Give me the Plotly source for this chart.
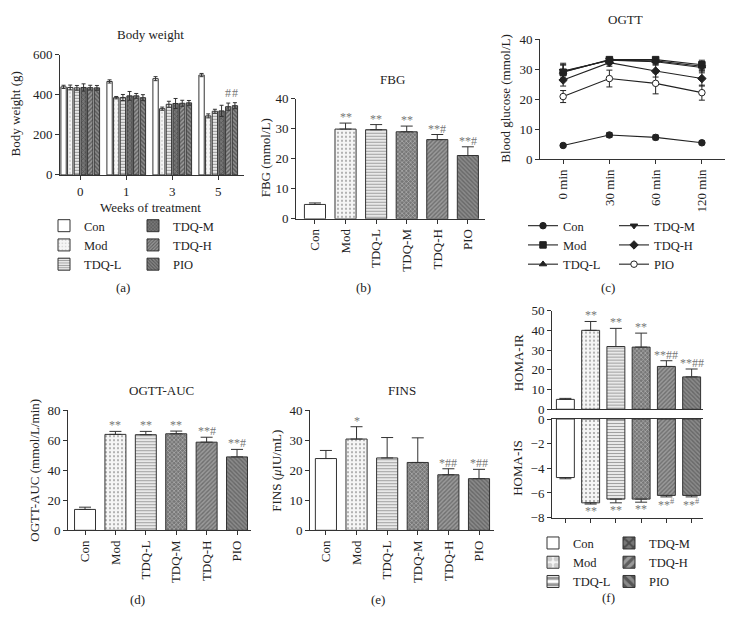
import plotly.graph_objects as go

# ---------------- data ----------------
groups = ["Con", "Mod", "TDQ-L", "TDQ-M", "TDQ-H", "PIO"]

weeks = ["0", "1", "3", "5"]
bw_mean = {
    "Con":   [440, 467, 481, 499],
    "Mod":   [437, 386, 331, 295],
    "TDQ-L": [435, 387, 353, 318],
    "TDQ-M": [437, 395, 357, 320],
    "TDQ-H": [436, 395, 358, 341],
    "PIO":   [435, 386, 360, 346],
}
bw_err = {
    "Con":   [8, 8, 10, 8],
    "Mod":   [12, 6, 8, 10],
    "TDQ-L": [12, 15, 15, 10],
    "TDQ-M": [18, 22, 25, 28],
    "TDQ-H": [12, 12, 15, 18],
    "PIO":   [12, 15, 12, 15],
}
bw_sig = {"TDQ-H": ["", "", "", "#"], "PIO": ["", "", "", "#"]}

times = ["0 min", "30 min", "60 min", "120 min"]
ogtt_mean = {
    "Con":   [4.6, 8.1, 7.3, 5.5],
    "Mod":   [29.0, 33.2, 33.2, 31.5],
    "TDQ-L": [29.2, 33.0, 32.8, 31.0],
    "TDQ-M": [29.4, 33.0, 32.5, 30.6],
    "TDQ-H": [26.4, 32.2, 29.4, 26.9],
    "PIO":   [20.9, 26.9, 25.3, 22.2],
}
ogtt_err = {
    "Con":   [0.4, 0.8, 0.8, 0.6],
    "Mod":   [2.5, 0.8, 0.8, 1.5],
    "TDQ-L": [2.8, 0.8, 0.9, 1.5],
    "TDQ-M": [2.0, 0.8, 1.0, 1.8],
    "TDQ-H": [2.0, 1.2, 2.0, 2.5],
    "PIO":   [2.0, 2.8, 3.5, 2.5],
}

fbg = [4.8, 29.9, 29.7, 29.0, 26.4, 21.1]
fbg_err = [0.5, 2.0, 1.7, 1.9, 1.7, 2.9]
fbg_sig = ["", "**", "**", "**", "**#", "**#"]

auc = [13.9, 63.9, 63.7, 64.3, 58.7, 48.9]
auc_err = [1.5, 2.0, 2.2, 1.8, 3.3, 5.0]
auc_sig = ["", "**", "**", "**", "**#", "**#"]

fins = [23.9, 30.4, 24.1, 22.6, 18.5, 17.2]
fins_err = [2.7, 4.1, 6.8, 8.2, 2.0, 3.1]
fins_sig = ["", "*", "", "", "*##", "*##"]

homa_ir = [5.0, 40.0, 31.8, 31.5, 21.7, 16.4]
homa_ir_err = [0.5, 4.5, 9.2, 7.1, 2.9, 4.0]
homa_ir_sig = ["", "**", "**", "**", "**##", "**##"]

homa_is = [-4.75, -6.8, -6.5, -6.5, -6.2, -6.2]
homa_is_err = [0.1, 0.1, 0.3, 0.25, 0.12, 0.12]
homa_is_sig = ["", "**", "**", "**", "**<sup>#</sup>", "**<sup>#</sup>"]

# ---------------- style ----------------
W, H = 733, 633
FONT = "Liberation Serif"
INK = "#222222"
AX = "#333333"
STAR = "#777777"
FS = 13
LFS = 12.5

style = {
    "Con":   dict(bg="#ffffff", shape="",   fg="#333333", size=4, sol=0.3),
    "Mod":   dict(bg="#f5f5f5", shape=".",  fg="#a8a8a8", size=4, sol=0.2),
    "TDQ-L": dict(bg="#ffffff", shape="-",  fg="#333333", size=3, sol=0.5),
    "TDQ-M": dict(bg="#777777", shape="x",  fg="#222222", size=3, sol=0.35),
    "TDQ-H": dict(bg="#9a9a9a", shape="/",  fg="#222222", size=3, sol=0.45),
    "PIO":   dict(bg="#8a8a8a", shape="\\", fg="#222222", size=3, sol=0.45),
}
symbols = {"Con": "circle", "Mod": "square", "TDQ-L": "triangle-up",
           "TDQ-M": "triangle-down", "TDQ-H": "diamond", "PIO": "circle"}


def px(x):
    return x / W


def py(y):
    return 1 - y / H


def marker_for(gs):
    return dict(
        color=[style[g]["bg"] for g in gs],
        line=dict(color=AX, width=1),
        pattern=dict(shape=[style[g]["shape"] for g in gs],
                     fgcolor=[style[g]["fg"] for g in gs],
                     size=[style[g]["size"] for g in gs],
                     solidity=[style[g]["sol"] for g in gs]),
    )


def err_up(arr, w=6):
    return dict(type="data", array=arr, arrayminus=[0] * len(arr), symmetric=False,
                color=AX, thickness=1, width=w)


def err_down(arr, w=6):
    return dict(type="data", array=[0] * len(arr), arrayminus=arr, symmetric=False,
                color=AX, thickness=1, width=w)


fig = go.Figure()

# (a) body weight, grouped bars
BARGAP = 0.13
for gi, g in enumerate(groups):
    s = style[g]
    fig.add_trace(go.Bar(
        x=weeks, y=bw_mean[g], name=g, xaxis="x", yaxis="y",
        marker=dict(color=s["bg"], line=dict(color=AX, width=1),
                    pattern=dict(shape=s["shape"], fgcolor=s["fg"], size=s["size"], solidity=s["sol"])),
        error_y=dict(type="data", array=bw_err[g], color=AX, thickness=1, width=2),
        legend="legend" if gi < 3 else "legend2",
    ))

# (b) FBG
fig.add_trace(go.Bar(x=groups, y=fbg, width=0.69, xaxis="x2", yaxis="y2",
                     marker=marker_for(groups), error_y=err_up(fbg_err), showlegend=False))

# (c) OGTT lines
for gi, g in enumerate(groups):
    fig.add_trace(go.Scatter(
        x=times, y=ogtt_mean[g], name=g, mode="lines+markers", xaxis="x3", yaxis="y3",
        line=dict(color=INK, width=1.1),
        marker=dict(symbol=symbols[g], size=6.5,
                    color="#ffffff" if g == "PIO" else INK, line=dict(color=INK, width=1)),
        error_y=dict(type="data", array=ogtt_err[g], color=INK, thickness=1, width=3),
        legend="legend3" if gi < 3 else "legend4",
    ))

# (d) OGTT-AUC
fig.add_trace(go.Bar(x=groups, y=auc, width=0.69, xaxis="x4", yaxis="y4",
                     marker=marker_for(groups), error_y=err_up(auc_err), showlegend=False))

# (e) FINS
fig.add_trace(go.Bar(x=groups, y=fins, width=0.69, xaxis="x5", yaxis="y5",
                     marker=marker_for(groups), error_y=err_up(fins_err), showlegend=False))

# (f) HOMA-IR / HOMA-IS
for gi, g in enumerate(groups):
    fig.add_trace(go.Bar(x=[g], y=[homa_ir[gi]], name=g, width=0.71, offsetgroup="ir",
                         xaxis="x6", yaxis="y6", marker=marker_for([g]),
                         error_y=err_up([homa_ir_err[gi]]),
                         legend="legend5" if gi < 3 else "legend6"))
    fig.add_trace(go.Bar(x=[g], y=[homa_is[gi]], name=g, width=0.71, offsetgroup="is",
                         xaxis="x7", yaxis="y7", marker=marker_for([g]),
                         error_y=err_down([homa_is_err[gi]]), showlegend=False))

# ---------------- axes ----------------
tickfont = dict(family=FONT, size=FS, color=INK)


def xax(d0, d1, anchor, rng, cats, **kw):
    a = dict(domain=[px(d0), px(d1)], anchor=anchor, type="category",
             categoryorder="array", categoryarray=cats, range=rng,
             showline=True, linecolor=AX, linewidth=1, ticks="outside", ticklen=4,
             tickcolor=AX, showgrid=False, zeroline=False, tickfont=tickfont)
    a.update(kw)
    return a


def yax(t, b, anchor, rng, dtick, **kw):
    a = dict(domain=[py(b), py(t)], anchor=anchor, range=rng, dtick=dtick,
             showline=True, linecolor=AX, linewidth=1, ticks="outside", ticklen=4,
             tickcolor=AX, showgrid=False, zeroline=False, tickfont=tickfont)
    a.update(kw)
    return a


fig.update_layout(
    xaxis=xax(60, 244, "y", [-0.44, 3.56], weeks),
    yaxis=yax(49, 172, "x", [0, 600], 200),
    xaxis2=xax(296, 485, "y2", [-0.62, 5.56], groups, tickangle=-90),
    yaxis2=yax(94, 217, "x2", [0, 40], 10),
    xaxis3=xax(540, 725, "y3", [-0.5, 3.5], times, tickangle=-90),
    yaxis3=yax(33, 156, "x3", [0, 40], 10),
    xaxis4=xax(68, 251, "y4", [-0.56, 5.46], groups, tickangle=-90),
    yaxis4=yax(413, 536, "x4", [0, 80], 20),
    xaxis5=xax(310, 494, "y5", [-0.52, 5.49], groups, tickangle=-90),
    yaxis5=yax(413, 536, "x5", [0, 40], 10),
    xaxis6=xax(552, 703, "y6", [-0.53, 5.45], groups, ticks="", showticklabels=False),
    yaxis6=yax(311, 412, "x6", [0, 50], 10),
    xaxis7=xax(552, 703, "y7", [-0.53, 5.45], groups, showticklabels=False, mirror=True),
    yaxis7=yax(422, 523, "x7", [-8, 0], 2),
)

# ---------------- legends ----------------
def leg(xpx, ypx):
    return dict(x=px(xpx), y=py(ypx), xanchor="left", yanchor="top",
                bgcolor="rgba(0,0,0,0)", borderwidth=0, tracegroupgap=0,
                font=dict(family=FONT, size=LFS, color=INK), orientation="v")


fig.update_layout(
    legend=leg(44, 209), legend2=leg(133, 209),
    legend3=leg(523, 209), legend4=leg(614, 209),
    legend5=leg(533, 534), legend6=leg(609, 534),
)

# ---------------- texts ----------------
ann = []


def text(xp, yp, t, size=FS, angle=0, color=INK):
    ann.append(dict(x=px(xp), y=py(yp), xref="paper", yref="paper", text=t, showarrow=False,
                    textangle=angle, font=dict(family=FONT, size=size, color=color),
                    xanchor="center", yanchor="middle"))


# titles
text(150, 28, "Body weight")
text(392, 74, "FBG")
text(625, 13, "OGTT")
text(161, 393, "OGTT-AUC")
text(402, 393, "FINS")
text(150, 205, "Weeks of treatment")
# y titles
text(15, 110, "Body weight (g)", angle=-90)
text(265, 155, "FBG (mmol/L)", angle=-90)
text(506, 94, "Blood glucose (mmol/L)", angle=-90)
text(35, 475, "OGTT-AUC (mmol/L/min)", angle=-90)
text(277, 475, "FINS (<i>μ</i>IU/mL)", angle=-90)
text(518, 365, "HOMA-IR", angle=-90)
text(518, 472, "HOMA-IS", angle=-90)
# panel labels
text(123, 287, "(a)")
text(363, 287, "(b)")
text(608, 287, "(c)")
text(137, 607, "(d)")
text(378, 607, "(e)")
text(608, 605, "(f)")


def sig(xr, yr, xs, ys, labels, up=True):
    for x, y, t in zip(xs, ys, labels):
        if not t:
            continue
        ann.append(dict(x=x, y=y, xref=xr, yref=yr, text=t, showarrow=False,
                        font=dict(family=FONT, size=12, color=STAR),
                        xanchor="center", yanchor="bottom" if up else "top",
                        yshift=-3 if up else 2))


sig("x2", "y2", groups, [v + e for v, e in zip(fbg, fbg_err)], fbg_sig)
sig("x4", "y4", groups, [v + e for v, e in zip(auc, auc_err)], auc_sig)
sig("x5", "y5", groups, [v + e for v, e in zip(fins, fins_err)], fins_sig)
sig("x6", "y6", groups, [v + e for v, e in zip(homa_ir, homa_ir_err)], homa_ir_sig)
sig("x7", "y7", groups, [v - e for v, e in zip(homa_is, homa_is_err)], homa_is_sig, up=False)

# '#' marks in (a), above the grouped bars
slot = (1 - BARGAP) / len(groups)
for g, labels in bw_sig.items():
    gi = groups.index(g)
    off = -(1 - BARGAP) / 2 + (gi + 0.5) * slot
    for wi, t in enumerate(labels):
        if t:
            ann.append(dict(x=wi + off, y=bw_mean[g][wi] + bw_err[g][wi], xref="x", yref="y",
                            text=t, showarrow=False, font=dict(family=FONT, size=12, color=STAR),
                            xanchor="center", yanchor="bottom", yshift=1))

fig.update_layout(
    annotations=ann,
    barmode="group", bargap=BARGAP, bargroupgap=0.2,
    width=W, height=H, margin=dict(l=0, r=0, t=0, b=0),
    paper_bgcolor="white", plot_bgcolor="white",
    font=dict(family=FONT, size=FS, color=INK),
)

fig.write_html("out.html", config={"displayModeBar": False},
               post_script="document.body.style.margin='0';")
